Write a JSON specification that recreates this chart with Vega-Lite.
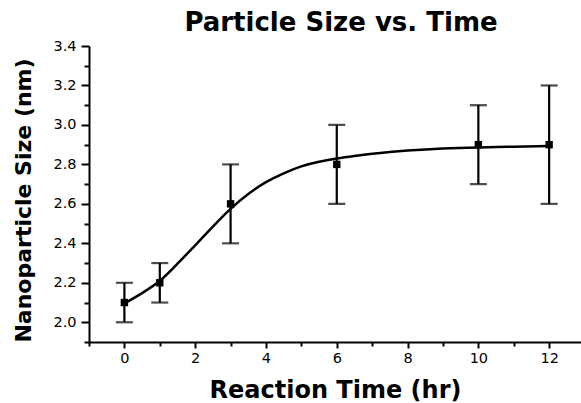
{
  "$schema": "https://vega.github.io/schema/vega-lite/v6.json",
  "autosize": {"type": "none"},
  "width": 492,
  "height": 296,
  "padding": {"left": 89, "top": 46, "right": 0, "bottom": 61},
  "background": "white",
  "title": {
    "text": "Particle Size vs. Time",
    "font": "DejaVu Sans",
    "fontSize": 26,
    "fontWeight": "bold",
    "color": "black",
    "anchor": "middle",
    "offset": 2,
    "dx": 6
  },
  "datasets": {
    "pts": [
      {"t": 0, "size": 2.1, "lo": 2.0, "hi": 2.2},
      {"t": 1, "size": 2.2, "lo": 2.1, "hi": 2.3},
      {"t": 3, "size": 2.6, "lo": 2.4, "hi": 2.8},
      {"t": 6, "size": 2.8, "lo": 2.6, "hi": 3.0},
      {"t": 10, "size": 2.9, "lo": 2.7, "hi": 3.1},
      {"t": 12, "size": 2.9, "lo": 2.6, "hi": 3.2}
    ],
    "fit": [
      {"t": 0, "size": 2.095},
      {"t": 0.5, "size": 2.148},
      {"t": 1.0, "size": 2.21},
      {"t": 1.5, "size": 2.297},
      {"t": 2.0, "size": 2.39},
      {"t": 2.5, "size": 2.485},
      {"t": 3.0, "size": 2.575},
      {"t": 3.5, "size": 2.65},
      {"t": 4.0, "size": 2.71},
      {"t": 4.5, "size": 2.755},
      {"t": 5.0, "size": 2.79},
      {"t": 5.5, "size": 2.813},
      {"t": 6.0, "size": 2.83},
      {"t": 6.5, "size": 2.843},
      {"t": 7.0, "size": 2.854},
      {"t": 7.5, "size": 2.863},
      {"t": 8.0, "size": 2.87},
      {"t": 9.0, "size": 2.88},
      {"t": 10.0, "size": 2.886},
      {"t": 11.0, "size": 2.89},
      {"t": 12.0, "size": 2.893}
    ]
  },
  "encoding": {
    "x": {
      "field": "t",
      "type": "quantitative",
      "scale": {"domain": [-1, 12.9], "nice": false, "zero": false},
      "axis": {
        "title": "Reaction Time (hr)",
        "values": [-1, 0, 1, 2, 3, 4, 5, 6, 7, 8, 9, 10, 11, 12],
        "labelExpr": "datum.value % 2 == 0 ? format(datum.value, 'd') : ''",
        "tickSize": {"condition": {"test": "datum.value % 2 == 0", "value": 6}, "value": 4},
        "labelPadding": 3,
        "labelFont": "DejaVu Sans",
        "labelFontSize": 14.5,
        "titleFont": "DejaVu Sans",
        "titleFontSize": 24,
        "titleFontWeight": "bold",
        "titlePadding": 14
      }
    }
  },
  "layer": [
    {
      "data": {"name": "pts"},
      "mark": {"type": "rule", "color": "black", "strokeWidth": 2.2},
      "encoding": {
        "y": {
          "field": "lo", "type": "quantitative",
          "scale": {"domain": [1.9, 3.4], "nice": false, "zero": false},
          "axis": {
            "title": "Nanoparticle Size (nm)",
            "values": [1.9, 2.0, 2.1, 2.2, 2.3, 2.4, 2.5, 2.6, 2.7, 2.8, 2.9, 3.0, 3.1, 3.2, 3.3, 3.4],
            "labelExpr": "round(datum.value * 10) % 2 == 0 ? format(datum.value, '.1f') : ''",
            "tickSize": {"condition": {"test": "round(datum.value * 10) % 2 == 0", "value": 8}, "value": 5},
            "labelPadding": 5,
            "labelFont": "DejaVu Sans",
            "labelFontSize": 14.5,
            "titleFont": "DejaVu Sans",
            "titleFontSize": 22,
            "titleFontWeight": "bold",
            "titlePadding": 17,
            "titleY": 154
          }
        },
        "y2": {"field": "hi"}
      }
    },
    {
      "data": {"name": "pts"},
      "mark": {"type": "tick", "orient": "horizontal", "color": "black", "size": 17, "thickness": 2.2},
      "encoding": {
        "y": {
          "field": "lo", "type": "quantitative",
          "scale": {"domain": [1.9, 3.4], "nice": false, "zero": false},
          "axis": {
            "title": "Nanoparticle Size (nm)",
            "values": [1.9, 2.0, 2.1, 2.2, 2.3, 2.4, 2.5, 2.6, 2.7, 2.8, 2.9, 3.0, 3.1, 3.2, 3.3, 3.4],
            "labelExpr": "round(datum.value * 10) % 2 == 0 ? format(datum.value, '.1f') : ''",
            "tickSize": {"condition": {"test": "round(datum.value * 10) % 2 == 0", "value": 8}, "value": 5},
            "labelPadding": 5,
            "labelFont": "DejaVu Sans",
            "labelFontSize": 14.5,
            "titleFont": "DejaVu Sans",
            "titleFontSize": 22,
            "titleFontWeight": "bold",
            "titlePadding": 17,
            "titleY": 154
          }
        }
      }
    },
    {
      "data": {"name": "pts"},
      "mark": {"type": "tick", "orient": "horizontal", "color": "black", "size": 17, "thickness": 2.2},
      "encoding": {
        "y": {
          "field": "hi", "type": "quantitative",
          "scale": {"domain": [1.9, 3.4], "nice": false, "zero": false},
          "axis": {
            "title": "Nanoparticle Size (nm)",
            "values": [1.9, 2.0, 2.1, 2.2, 2.3, 2.4, 2.5, 2.6, 2.7, 2.8, 2.9, 3.0, 3.1, 3.2, 3.3, 3.4],
            "labelExpr": "round(datum.value * 10) % 2 == 0 ? format(datum.value, '.1f') : ''",
            "tickSize": {"condition": {"test": "round(datum.value * 10) % 2 == 0", "value": 8}, "value": 5},
            "labelPadding": 5,
            "labelFont": "DejaVu Sans",
            "labelFontSize": 14.5,
            "titleFont": "DejaVu Sans",
            "titleFontSize": 22,
            "titleFontWeight": "bold",
            "titlePadding": 17,
            "titleY": 154
          }
        }
      }
    },
    {
      "data": {"name": "fit"},
      "mark": {"type": "line", "color": "black", "strokeWidth": 2.5, "interpolate": "natural"},
      "encoding": {
        "y": {
          "field": "size", "type": "quantitative",
          "scale": {"domain": [1.9, 3.4], "nice": false, "zero": false},
          "axis": {
            "title": "Nanoparticle Size (nm)",
            "values": [1.9, 2.0, 2.1, 2.2, 2.3, 2.4, 2.5, 2.6, 2.7, 2.8, 2.9, 3.0, 3.1, 3.2, 3.3, 3.4],
            "labelExpr": "round(datum.value * 10) % 2 == 0 ? format(datum.value, '.1f') : ''",
            "tickSize": {"condition": {"test": "round(datum.value * 10) % 2 == 0", "value": 8}, "value": 5},
            "labelPadding": 5,
            "labelFont": "DejaVu Sans",
            "labelFontSize": 14.5,
            "titleFont": "DejaVu Sans",
            "titleFontSize": 22,
            "titleFontWeight": "bold",
            "titlePadding": 17,
            "titleY": 154
          }
        }
      }
    },
    {
      "data": {"name": "pts"},
      "mark": {"type": "point", "shape": "square", "filled": true, "color": "black", "opacity": 1, "size": 55},
      "encoding": {
        "y": {
          "field": "size",
          "type": "quantitative",
          "scale": {"domain": [1.9, 3.4], "nice": false, "zero": false},
          "axis": {
            "title": "Nanoparticle Size (nm)",
            "values": [1.9, 2.0, 2.1, 2.2, 2.3, 2.4, 2.5, 2.6, 2.7, 2.8, 2.9, 3.0, 3.1, 3.2, 3.3, 3.4],
            "labelExpr": "round(datum.value * 10) % 2 == 0 ? format(datum.value, '.1f') : ''",
            "tickSize": {"condition": {"test": "round(datum.value * 10) % 2 == 0", "value": 8}, "value": 5},
            "labelPadding": 5,
            "labelFont": "DejaVu Sans",
            "labelFontSize": 14.5,
            "titleFont": "DejaVu Sans",
            "titleFontSize": 22,
            "titleFontWeight": "bold",
            "titlePadding": 17,
            "titleY": 154
          }
        }
      }
    }
  ],
  "config": {
    "view": {"stroke": null},
    "axis": {
      "grid": false,
      "domainColor": "black",
      "domainWidth": 2,
      "tickColor": "black",
      "tickWidth": 2,
      "labelColor": "black",
      "titleColor": "black"
    }
  }
}
